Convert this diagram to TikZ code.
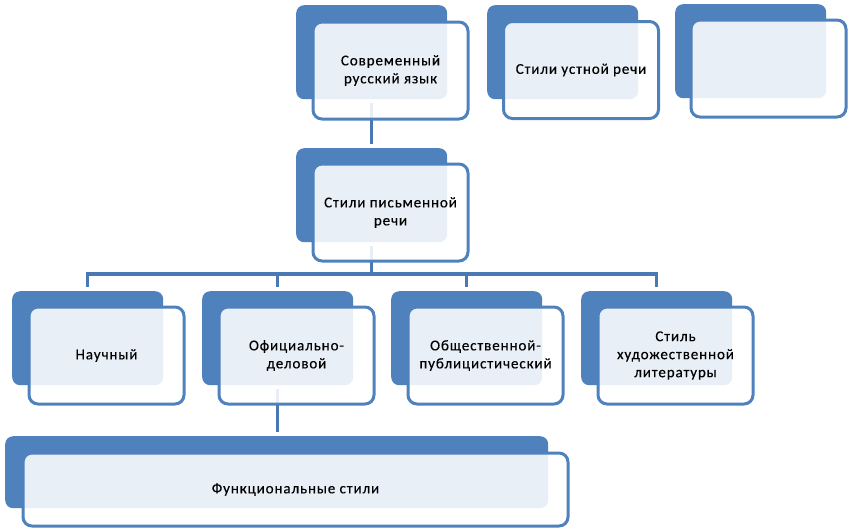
\documentclass[tikz,border=0pt]{standalone}
\usepackage{fontspec}
\setmainfont{Carlito}[LetterSpace=6,FakeBold=0.3]
\definecolor{boxblue}{HTML}{4F81BD}
\definecolor{lineblue}{HTML}{4A78B2}
\tikzset{
  backbox/.style={fill=boxblue, rounded corners=8pt, minimum width=151pt, minimum height=94pt, inner sep=0pt, anchor=north west},
  frontbox/.style={draw=boxblue, line width=3pt, fill=white, fill opacity=0.88, text opacity=1, rounded corners=9pt, minimum width=155pt, minimum height=97pt, inner sep=0pt, anchor=north west, align=center, font=\fontsize{15}{18}\selectfont, text=black},
  conn/.style={draw=lineblue, line width=3.5pt, shorten <=4pt, shorten >=4pt}
}
\begin{document}
\begin{tikzpicture}[x=1pt,y=-1pt]
\useasboundingbox (0,0) rectangle (850,528);
% back boxes
\node[backbox] (b1) at (296,5) {};
\node[backbox] (b2) at (487,5) {};
\node[backbox] (b3) at (675,4) {};
\node[backbox] (bm) at (296,148) {};
\node[backbox] (r1) at (12,291) {};
\node[backbox] (r2) at (202,291) {};
\node[backbox] (r3) at (391,291) {};
\node[backbox] (r4) at (581,291) {};
\node[backbox, minimum width=543pt, minimum height=72pt] (bb) at (5,436) {};
% connectors
\coordinate (bus) at (0,274);
\draw[conn] (b1.south) -- (bm.north);
\draw[conn, shorten >=0pt] (bm.south) -- (bm.south |- bus);
\draw[conn, shorten <=4pt, shorten >=4pt] (r1.north) |- (bus -| r4.north) -- (r4.north);
\draw[conn, shorten <=0pt] (r2.north |- bus) -- (r2.north);
\draw[conn, shorten <=0pt] (r3.north |- bus) -- (r3.north);
\draw[conn] (r2.south) -- (r2.south |- bb.north);
% front boxes
\node[frontbox] (f1) at (311.5,20.5) {Современный\\русский язык};
\node[frontbox] (f2) at (502,20) {Стили устной речи};
\node[frontbox] (f3) at (689.5,18.5) {};
\node[frontbox] (fm) at (311.5,162.5) {Стили письменной\\речи};
\node[frontbox] (g1) at (27.5,305.5) {Научный};
\node[frontbox] (g2) at (217.5,305.5) {Официально-\\деловой};
\node[frontbox] (g3) at (406.5,305.5) {Общественной-\\публицистический};
\node[frontbox] (g4) at (596.5,305.5) {Стиль\\художественной\\литературы};
\node[frontbox, minimum width=545pt, minimum height=73pt] (fb) at (21.5,451.5) {Функциональные стили};
\end{tikzpicture}
\end{document}
